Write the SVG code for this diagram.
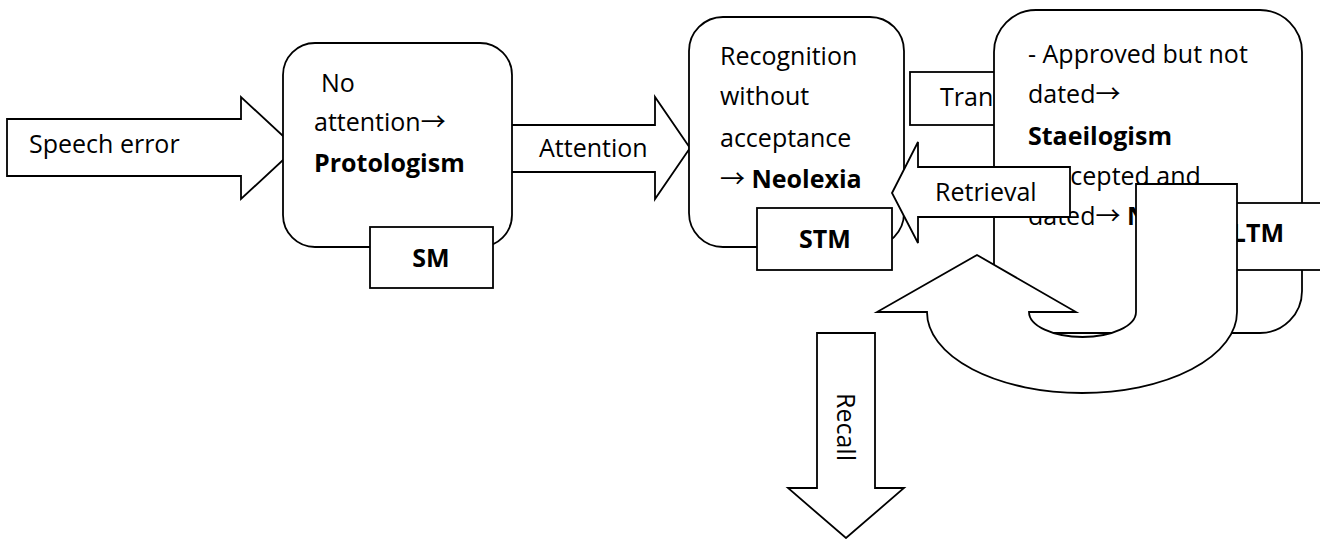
<svg xmlns="http://www.w3.org/2000/svg" width="1320" height="539" viewBox="0 0 1320 539">
<style>
.shape{fill:#fff;stroke:#000;stroke-width:1.8;stroke-linejoin:miter}
.t{font-family:"Open Sans","Liberation Sans",sans-serif;font-size:25px;fill:#000}
.b{font-weight:bold}
.arr{font-family:"Noto Sans CJK SC","DejaVu Sans",sans-serif;font-size:25px;font-weight:normal}
</style>
<rect width="1320" height="539" fill="#fff"/>
<g id="connectors-back">
  <polygon id="speech-error" class="shape" points="7,119 241,119 241,97 296,148 241,199 241,176 7,176"/>
  <text class="t" x="29" y="153">Speech error</text>
  <polygon id="attention" class="shape" points="500,125 655,125 655,97 690,148 655,199 655,172 500,172"/>
  <text class="t" x="539" y="157">Attention</text>
</g>
<g id="sm">
  <rect class="shape" x="283" y="43" width="229" height="204" rx="32"/>
  <text class="t" x="321" y="92">No</text>
  <text class="t" x="314" y="131">attention<tspan class="arr">→</tspan></text>
  <text class="t b" x="314" y="172">Protologism</text>
  <rect class="shape" x="370" y="227" width="123" height="61"/>
  <text class="t b" x="431" y="267" text-anchor="middle">SM</text>
</g>
<g id="stm">
  <rect class="shape" x="689" y="17" width="215" height="230" rx="34"/>
  <text class="t" x="720" y="65">Recognition</text>
  <text class="t" x="720" y="105">without</text>
  <text class="t" x="720" y="147">acceptance</text>
  <text class="t" x="720" y="188"><tspan class="arr">→</tspan> <tspan class="b">Neolexia</tspan></text>
  <rect class="shape" x="757" y="208" width="135" height="62"/>
  <text class="t b" x="825" y="248" text-anchor="middle">STM</text>
</g>
<g id="transfer">
  <rect class="shape" x="910" y="72" width="120" height="53"/>
  <text class="t" x="940" y="106">Tran</text>
</g>
<g id="ltm">
  <rect class="shape" x="994" y="10" width="308" height="323" rx="42"/>
  <text class="t" x="1028" y="63">- Approved but not</text>
  <text class="t" x="1028" y="103">dated<tspan class="arr">→</tspan></text>
  <text class="t b" x="1028" y="145">Staeilogism</text>
  <text class="t" x="1028" y="185">- Accepted and</text>
  <text class="t" x="1028" y="225">dated<tspan class="arr">→</tspan> <tspan class="b">N</tspan></text>
  <rect class="shape" x="1150" y="203" width="180" height="67"/>
  <text class="t b" x="1284" y="242" text-anchor="end">LTM</text>
</g>
<g id="connectors-front">
  <polygon id="retrieval" class="shape" points="892,193 918,142 918,167 1070,167 1070,217 918,217 918,243"/>
  <text class="t" x="935" y="201">Retrieval</text>
  <path id="loop" class="shape" d="M1136,184 L1237,184 L1237,312 A155,81 0 0 1 927,312 L877,312 L977,255 L1076,312 L1029,312 A53.5,25 0 0 0 1136,312 Z"/>
  <polygon id="recall" class="shape" points="817,333 875,333 875,488 904,488 846,538 788,488 817,488"/>
  <text class="t" transform="translate(837,393) rotate(90)">Recall</text>
</g>
</svg>
